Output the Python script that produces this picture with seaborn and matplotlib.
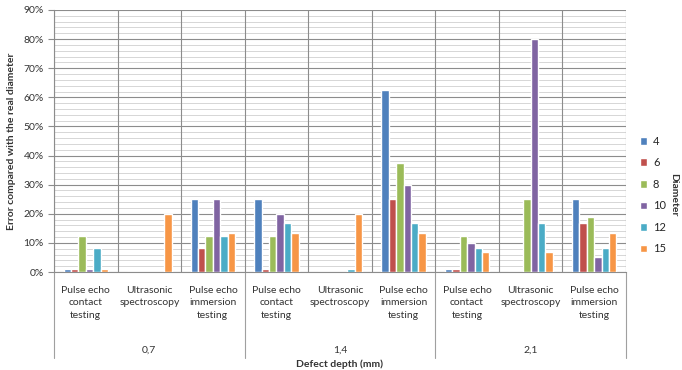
import numpy as np
import pandas as pd
import matplotlib
matplotlib.use("Agg")
import matplotlib.pyplot as plt
import matplotlib.ticker as mticker
import seaborn as sns

depths = ["0,7", "1,4", "2,1"]
methods = ["Pulse echo\ncontact\ntesting", "Ultrasonic\nspectroscopy", "Pulse echo\nimmersion\ntesting"]
diameters = ["4", "6", "8", "10", "12", "15"]

# error in %, one value per (depth, method), in order
d4 = [1, 0, 25, 25, 0, 62.5, 1, 0, 25]
d6 = [1, 0, 8.3, 1, 0, 25, 1, 0, 16.7]
d8 = [12.5, 0, 12.5, 12.5, 0, 37.5, 12.5, 25, 18.75]
d10 = [1, 0, 25, 20, 0, 30, 10, 80, 5]
d12 = [8.3, 0, 12.5, 16.7, 1, 16.7, 8.3, 16.7, 8.3]
d15 = [1, 20, 13.3, 13.3, 20, 13.3, 6.7, 6.7, 13.3]

colors = ["#4F81BD", "#C0504D", "#9BBB59", "#8064A2", "#4BACC6", "#F79646"]

cats = [f"{d}|{m}" for d in depths for m in methods]
rows = []
for dia, vals in zip(diameters, [d4, d6, d8, d10, d12, d15]):
    for c, v in zip(cats, vals):
        rows.append({"cat": c, "Diameter": dia, "err": v / 100})
df = pd.DataFrame(rows)

sns.set_style("white")
plt.rcParams["font.family"] = ["Lato", "DejaVu Sans"]

fig = plt.figure(figsize=(6.82, 3.70), dpi=100)
ax = fig.add_axes([54 / 682, 98 / 370, 572 / 682, 262 / 370])

sns.barplot(data=df, x="cat", y="err", hue="Diameter", order=cats,
            hue_order=diameters, palette=colors, width=0.7, gap=0,
            saturation=1, errorbar=None, ax=ax, zorder=3)

ax.set_ylim(0, 0.9)
ax.set_xlim(-0.5, len(cats) - 0.5)
ax.yaxis.set_major_locator(mticker.MultipleLocator(0.1))
ax.yaxis.set_minor_locator(mticker.MultipleLocator(0.02))
ax.yaxis.set_major_formatter(mticker.PercentFormatter(1.0, decimals=0))
ax.grid(which="major", axis="y", color="#8c8c8c", lw=0.8, zorder=0)
ax.grid(which="minor", axis="y", color="#d0d0d0", lw=0.6, zorder=0)
ax.set_axisbelow(True)
for i in range(len(cats) + 1):
    ax.axvline(i - 0.5, color="#8c8c8c", lw=0.8, zorder=1)

for s in ["top", "right"]:
    ax.spines[s].set_visible(False)
for s in ["left", "bottom"]:
    ax.spines[s].set_color("#8c8c8c")
    ax.spines[s].set_linewidth(0.8)

ax.tick_params(axis="y", which="major", length=4, color="#8c8c8c", labelsize=7.5,
               labelcolor="#333333", left=True)
ax.tick_params(axis="y", which="minor", length=0)
ax.tick_params(axis="x", length=0, labelsize=7.5, labelcolor="#333333", pad=10)
ax.set_xticks(range(len(cats)))
ax.set_xticklabels([m for d in depths for m in methods], linespacing=1.5)
ax.set_xlabel("")
ax.set_ylabel("Error compared with the real diameter", fontsize=7.5,
              fontweight="bold", color="#333333", labelpad=5)

# depth group labels and long separators
trans = ax.get_xaxis_transform()
for g, d in enumerate(depths):
    ax.text(g * 3 + 1, -78 / 262, d, transform=trans, ha="center", va="center",
            fontsize=7.5, color="#333333")
for g in range(len(depths) + 1):
    ax.plot([g * 3 - 0.5, g * 3 - 0.5], [0, -86 / 262], transform=trans,
            color="#a0a0a0", lw=0.8, clip_on=False)

fig.text(340 / 682, 0.002, "Defect depth (mm)", ha="center", va="bottom",
         fontsize=7.5, fontweight="bold", color="#333333")

handles, labels = ax.get_legend_handles_labels()
ax.legend_.remove()
fig.legend(handles, labels, loc="center left", bbox_to_anchor=(634 / 682, 1 - 195 / 370),
           frameon=False, fontsize=8, handlelength=0.7, handleheight=0.7,
           handletextpad=0.5, labelspacing=0.95, borderpad=0)
fig.text(674 / 682, 1 - 195 / 370, "Diameter", rotation=-90, ha="center", va="center",
         fontsize=7.5, fontweight="bold", color="#333333")

fig.savefig("out.png", dpi=100)
